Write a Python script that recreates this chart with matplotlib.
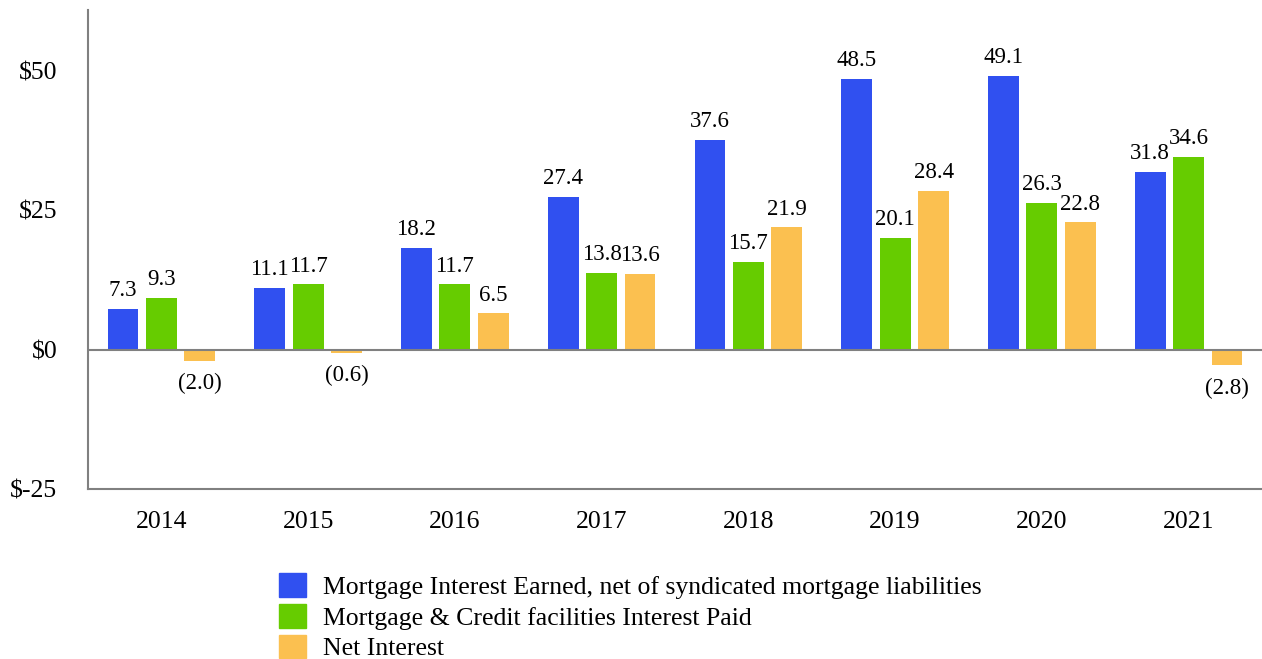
import numpy as np
import matplotlib.pyplot as plt
from matplotlib.patches import Patch

plt.rcParams['font.family'] = ['Liberation Serif', 'DejaVu Serif']

YEARS = ['2014', '2015', '2016', '2017', '2018', '2019', '2020', '2021']
EARNED = [7.3, 11.1, 18.2, 27.4, 37.6, 48.5, 49.1, 31.8]
PAID = [9.3, 11.7, 11.7, 13.8, 15.7, 20.1, 26.3, 34.6]
NET = [-2.0, -0.6, 6.5, 13.6, 21.9, 28.4, 22.8, -2.8]
SERIES = ['Mortgage Interest Earned, net of syndicated mortgage liabilities',
          'Mortgage & Credit facilities Interest Paid',
          'Net Interest']
COLORS = ['#3050F0', '#66CC00', '#FBC050']
YTICKS = [-25, 0, 25, 50]
FS = 18.5   # axis / legend text
VFS = 16.5  # value labels (tighter in the reference)

fig = plt.figure(figsize=(12.62, 6.59), dpi=100)
ax = fig.add_axes([88/1262, 1-489/659, 1174/1262, 479/659])

x = np.arange(len(YEARS))
W = 0.21; OFF = 0.262
for k, (vals, col) in enumerate(zip([EARNED, PAID, NET], COLORS)):
    xs = x + (k-1)*OFF
    ax.bar(xs, vals, width=W, color=col, zorder=2)
    for xi, v in zip(xs, vals):
        if v >= 0:
            ax.text(xi, v+1.4, f'{v:.1f}', ha='center', va='bottom', fontsize=VFS)
        else:
            ax.text(xi, v-2.2, f'({-v:.1f})', ha='center', va='top', fontsize=VFS)

ax.axhline(0, color='#808080', lw=1.5, zorder=3)
ax.set_xlim(-0.5, 7.5)
ax.set_ylim(-25, 60.9)
ax.set_yticks(YTICKS)
ax.set_yticklabels([f'${t}' for t in YTICKS], fontsize=FS)
ax.set_xticks(x)
ax.set_xticklabels(YEARS, fontsize=FS)
ax.tick_params(axis='x', length=0, pad=16)
ax.tick_params(axis='y', length=0, pad=22)
for s in ['top', 'right']:
    ax.spines[s].set_visible(False)
for s in ['left', 'bottom']:
    ax.spines[s].set_color('#808080')
    ax.spines[s].set_linewidth(1.5)

handles = [Patch(color=c) for c in COLORS]
fig.legend(handles, SERIES, loc='upper left', bbox_to_anchor=(279/1262, 1-573/659),
           frameon=False, fontsize=FS, handlelength=1.05, handleheight=1.05,
           labelspacing=0.2, handletextpad=0.66, borderaxespad=0, borderpad=0)

fig.savefig('out.png', dpi=100)
